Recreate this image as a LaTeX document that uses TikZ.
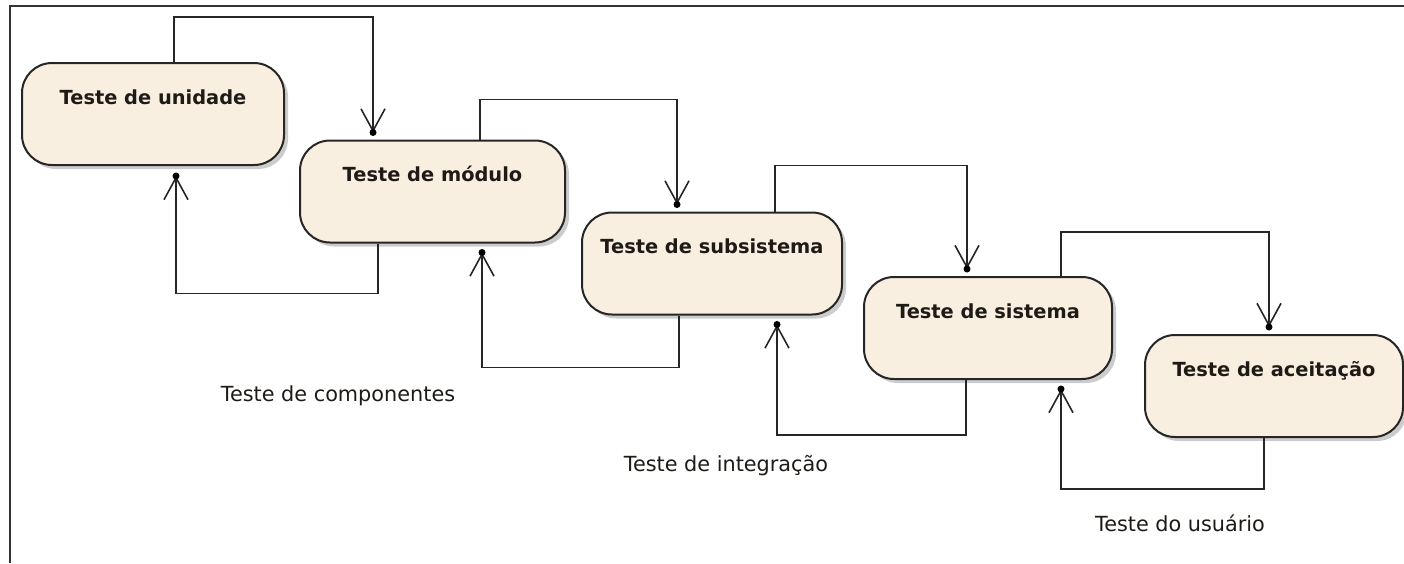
\documentclass[tikz,border=0pt]{standalone}
\usepackage{fontspec}
\setmainfont{DejaVu Sans}
\usetikzlibrary{arrows.meta,shadows}
\definecolor{creme}{RGB}{248,239,225}
\definecolor{tinta}{RGB}{30,26,22}

\begin{document}
\begin{tikzpicture}[x=1pt,y=-1pt,
  etapa/.style={draw=black!85,line width=2pt,fill=creme,rounded corners=30pt,
    minimum width=#1,minimum height=102pt,inner sep=0pt,text height=15pt,text depth=35pt,
    font=\fontsize{19.4}{22}\selectfont\bfseries,text=tinta,
    drop shadow={shadow xshift=4pt,shadow yshift=-4pt,fill=black!40}},
  fluxo/.style={draw=black!85,line width=1.9pt,-{Straight Barb[length=22pt,width=24pt,line width=1.6pt]}},
  ponta/.style={circle,fill=black,inner sep=0pt,minimum size=7pt},
  rotulo/.style={font=\fontsize{20.8}{24}\selectfont,text=tinta,text height=15pt,text depth=4pt},
  moldura/.style={draw=black!80,line width=2.2pt}]
\useasboundingbox (0,0) rectangle (1404,563);
\draw[moldura] (1404,6) -- (10,6) -- (10,563);
\node[etapa=262pt] (unid) at (153,114) {Teste de unidade};
\node[etapa=265pt] (mod) at (432.5,191.5) {Teste de módulo};
\node[etapa=260pt] (subs) at (712,263.5) {Teste de subsistema};
\node[etapa=248pt] (sist) at (988,328) {Teste de sistema};
\node[etapa=258pt] (acei) at (1274,386) {Teste de aceitação};
\draw[fluxo] ([xshift=21pt]unid.north) -- ++(0,-45) -| ([xshift=-59.5pt,yshift=7pt]mod.north) node[ponta] (p1) {};
\draw[fluxo] ([xshift=-54.5pt]mod.south) -- ++(0,50) -| ([xshift=23pt,yshift=-10pt]unid.south) node[ponta] (q1) {};
\draw[fluxo] ([xshift=47.5pt]mod.north) -- ++(0,-40) -| ([xshift=-35pt,yshift=7pt]subs.north) node[ponta] (p2) {};
\draw[fluxo] ([xshift=-33pt]subs.south) -- ++(0,52) -| ([xshift=49.5pt,yshift=-9pt]mod.south) node[ponta] (q2) {};
\draw[fluxo] ([xshift=63pt]subs.north) -- ++(0,-46) -| ([xshift=-21pt,yshift=7pt]sist.north) node[ponta] (p3) {};
\draw[fluxo] ([xshift=-22pt]sist.south) -- ++(0,55) -| ([xshift=65pt,yshift=-9pt]subs.south) node[ponta] (q3) {};
\draw[fluxo] ([xshift=73pt]sist.north) -- ++(0,-44) -| ([xshift=-5pt,yshift=7pt]acei.north) node[ponta] (p4) {};
\draw[fluxo] ([xshift=-10pt]acei.south) -- ++(0,51) -| ([xshift=73pt,yshift=-9pt]sist.south) node[ponta] (q4) {};
\node[rotulo] (lcomp) at (338,396) {Teste de componentes};
\node[rotulo] (linteg) at (726,466) {Teste de integração};
\node[rotulo] (luser) at (1180,526) {Teste do usuário};
\end{tikzpicture}
\end{document}
